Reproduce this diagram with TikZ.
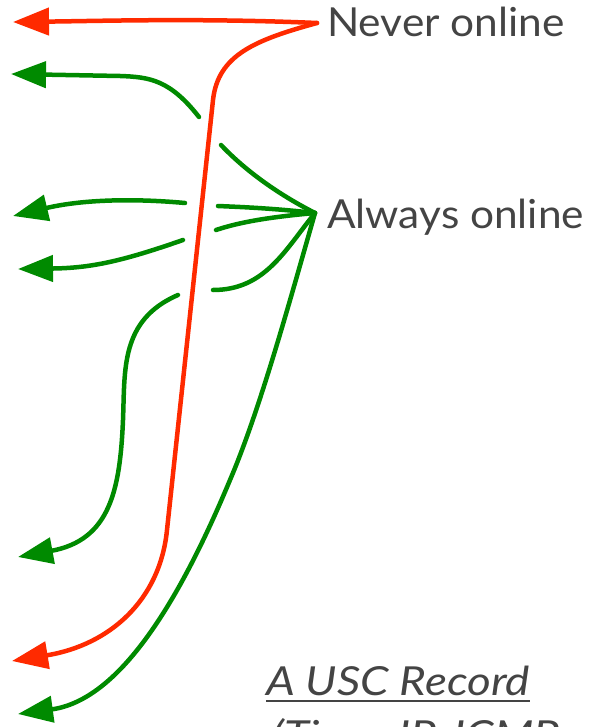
\documentclass[tikz,border=0pt]{standalone}
\usepackage{fontspec}
\setmainfont{Lato}
\usetikzlibrary{arrows.meta}
\definecolor{nred}{RGB}{255,42,0}
\definecolor{agreen}{RGB}{0,138,0}
\definecolor{txtgrey}{RGB}{68,68,68}
\tikzset{
  link/.style={line width=4.5pt, line cap=round, line join=round},
  redlink/.style={link, draw=nred},
  greenlink/.style={link, draw=agreen},
  tipred/.style={-{Triangle[length=36pt,width=27pt]}, redlink},
  tipgreen/.style={-{Triangle[length=35pt,width=26pt]}, greenlink},
  lbl/.style={text=txtgrey, font=\fontsize{40}{46}\selectfont, inner sep=0pt, anchor=base west, xscale=1.06},
}
\begin{document}
\begin{tikzpicture}[x=1pt,y=-1pt]
\useasboundingbox (0,0) rectangle (592,727);
\clip (0,0) rectangle (592,727);
% labels
\node[lbl] (never) at (327,37) {Never online};
\node[lbl] (always) at (327,229) {Always online};
\coordinate (ns) at (317,23);
\coordinate (as) at (315,213);
% red (never online)
\coordinate (r1) at (13,22);
\coordinate (r2) at (12,661);
\draw[tipred] (ns) .. controls (200,18) and (100,21) .. (r1);
\draw[tipred] (ns) .. controls (255,40) and (218,55) .. (213,100)
  -- (167,530) .. controls (160,600) and (110,645) .. (r2);
% green (always online)
\coordinate (g1) at (11,74);
\coordinate (g2) at (13,216);
\coordinate (g3) at (18,269);
\coordinate (g4) at (18,557);
\coordinate (g5) at (18,714);
% 1
\draw[greenlink] (as) .. controls (270,190) and (240,165) .. (221,145);
\draw[tipgreen] (199,117) .. controls (170,80) and (150,77) .. (120,76) -- (g1);
% 2
\draw[greenlink] (as) .. controls (270,208) and (240,207) .. (218,206);
\draw[tipgreen] (185,203) .. controls (130,198) and (80,200) .. (g2);
% 3
\draw[greenlink] (as) .. controls (270,217) and (240,222) .. (216,230);
\draw[tipgreen] (183,240) .. controls (120,262) and (90,268) .. (g3);
% 4
\draw[greenlink] (as) .. controls (285,250) and (265,290) .. (213,290);
\draw[tipgreen] (178,295) .. controls (120,320) and (125,370) .. (123,420)
  .. controls (120,490) and (110,540) .. (g4);
% 5
\draw[tipgreen] (as) .. controls (290,300) and (260,410) .. (230,480)
  .. controls (180,600) and (120,700) .. (g5);
% record caption
\node[lbl, font=\fontsize{40}{46}\selectfont\itshape, xscale=1.08] (rec) at (266,695) {A USC Record};
\draw[txtgrey, line width=2.2pt] (rec.base west) ++(0,6) coordinate (u1) -- (u1 -| rec.east);
\node[lbl, font=\fontsize{40}{46}\selectfont\itshape, xscale=1.08] (rec2) at (272,749) {(Time, IP, ICMP};
\end{tikzpicture}
\end{document}
